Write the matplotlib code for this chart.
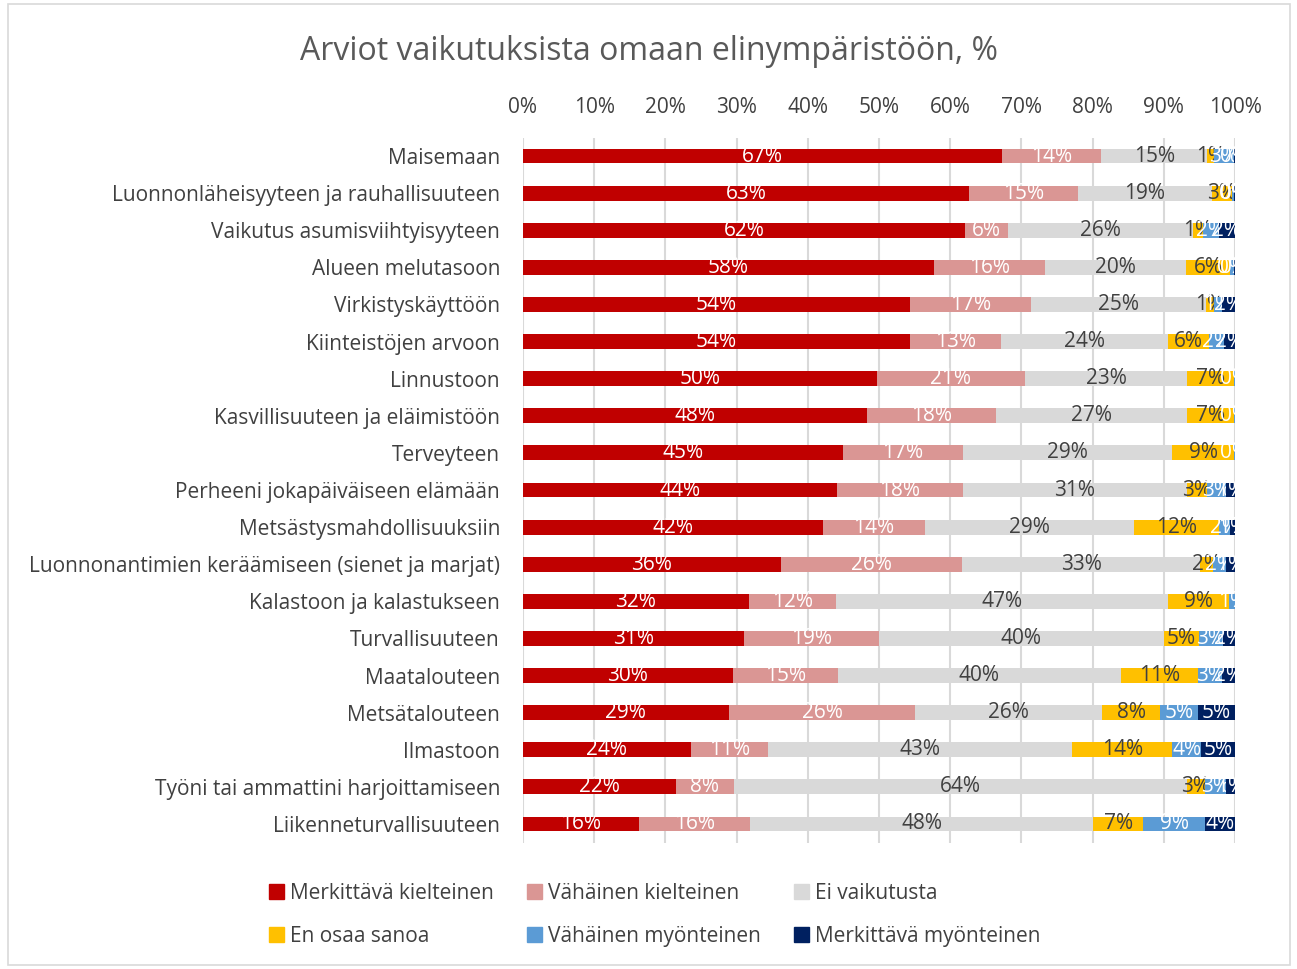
import matplotlib.pyplot as plt
from matplotlib.patches import Patch, Rectangle
import numpy as np

plt.rcParams['font.family'] = ['Open Sans', 'DejaVu Sans']

categories = [
    "Maisemaan",
    "Luonnonläheisyyteen ja rauhallisuuteen",
    "Vaikutus asumisviihtyisyyteen",
    "Alueen melutasoon",
    "Virkistyskäyttöön",
    "Kiinteistöjen arvoon",
    "Linnustoon",
    "Kasvillisuuteen ja eläimistöön",
    "Terveyteen",
    "Perheeni jokapäiväiseen elämään",
    "Metsästysmahdollisuuksiin",
    "Luonnonantimien keräämiseen (sienet ja marjat)",
    "Kalastoon ja kalastukseen",
    "Turvallisuuteen",
    "Maatalouteen",
    "Metsätalouteen",
    "Ilmastoon",
    "Työni tai ammattini harjoittamiseen",
    "Liikenneturvallisuuteen",
]

series_names = ["Merkittävä kielteinen", "Vähäinen kielteinen", "Ei vaikutusta",
                "En osaa sanoa", "Vähäinen myönteinen", "Merkittävä myönteinen"]

# percentages
merkittava_kielt = [67.3, 62.6, 62.1, 57.7, 54.4, 54.4, 49.7, 48.3, 44.9, 44.1,
                    42.1, 36.2, 31.7, 31.0, 29.5, 28.9, 23.6, 21.5, 16.3]
vahainen_kielt = [13.9, 15.3, 6.0, 15.6, 16.9, 12.7, 20.8, 18.1, 16.9, 17.7,
                  14.4, 25.5, 12.3, 19.0, 14.7, 26.2, 10.8, 8.1, 15.6]
ei_vaikutusta = [14.9, 18.8, 26.0, 19.8, 24.6, 23.5, 22.8, 26.9, 29.4, 31.4,
                 29.3, 33.4, 46.6, 40.0, 39.8, 26.2, 42.7, 63.6, 48.2]
en_osaa = [0.9, 2.9, 1.4, 6.2, 1.1, 5.8, 6.6, 6.6, 8.7, 2.9,
           11.9, 1.8, 8.6, 4.9, 10.8, 8.2, 14.1, 2.6, 7.0]
vahainen_myont = [2.9, 0.3, 2.2, 0.5, 1.2, 2.1, 0.1, 0.1, 0.1, 2.6,
                  1.6, 1.9, 0.8, 3.4, 3.4, 5.3, 4.0, 2.9, 8.7]
merkittava_myont = [0.1, 0.1, 2.3, 0.2, 1.8, 1.5, 0.0, 0.0, 0.0, 1.3,
                    0.7, 1.2, 0.0, 1.7, 1.8, 5.2, 4.8, 1.3, 4.2]

series = [merkittava_kielt, vahainen_kielt, ei_vaikutusta, en_osaa, vahainen_myont, merkittava_myont]
colors = ["#C00000", "#DA9694", "#D9D9D9", "#FFC000", "#5B9BD5", "#002060"]
label_colors = ["white", "white", "#404040", "#404040", "white", "white"]

fig = plt.figure(figsize=(12.97, 9.69), dpi=100)
fig.patches.append(Rectangle((8 / 1297, 4 / 969), 1282 / 1297, 961 / 969, transform=fig.transFigure,
                             fill=False, edgecolor="#D9D9D9", linewidth=1.2))

ax = fig.add_axes([0.4032, 0.1305, 0.549, 0.7276])

y = np.arange(len(categories))
left = np.zeros(len(categories))
for vals, name, c, lc in zip(series, series_names, colors, label_colors):
    vals = np.array(vals, dtype=float)
    bars = ax.barh(y, vals / 100, left=left, height=0.4, color=c, label=name, zorder=3)
    labels = [f"{round(v):.0f}%" if v > 0 else "" for v in vals]
    ax.bar_label(bars, labels=labels, label_type="center", color=lc, fontsize=15)
    left += vals / 100

ticks = np.arange(0, 1.01, 0.1)
ax.set_xlim(0, 1)
ax.set_ylim(len(categories) - 0.5, -0.5)
ax.set_yticks(y)
ax.set_yticklabels(categories, fontsize=15, color="#404040")
ax.set_xticks(ticks)
ax.set_xticklabels([f"{round(t * 100)}%" for t in ticks], fontsize=15, color="#404040")
ax.xaxis.tick_top()
ax.tick_params(axis="both", length=0)
ax.tick_params(axis="y", pad=16.5)
ax.tick_params(axis="x", pad=14)
ax.grid(axis="x", color="#D9D9D9", linewidth=1.5, zorder=0)
for s in ax.spines.values():
    s.set_visible(False)

fig.text(0.5, 0.947, "Arviot vaikutuksista omaan elinympäristöön, %", ha="center", va="center",
         fontsize=23, color="#595959")

# legend filled row by row like the original
order = [0, 3, 1, 4, 2, 5]
handles = [Patch(color=colors[i]) for i in order]
names = [series_names[i] for i in order]
fig.legend(handles, names, loc="center", bbox_to_anchor=(0.505, 0.056), ncol=3,
           frameon=False, fontsize=15, labelcolor="#404040", handlelength=0.7, handleheight=0.7,
           handletextpad=0.3, columnspacing=1.6, labelspacing=1.05)

plt.savefig("out.png", dpi=100)
